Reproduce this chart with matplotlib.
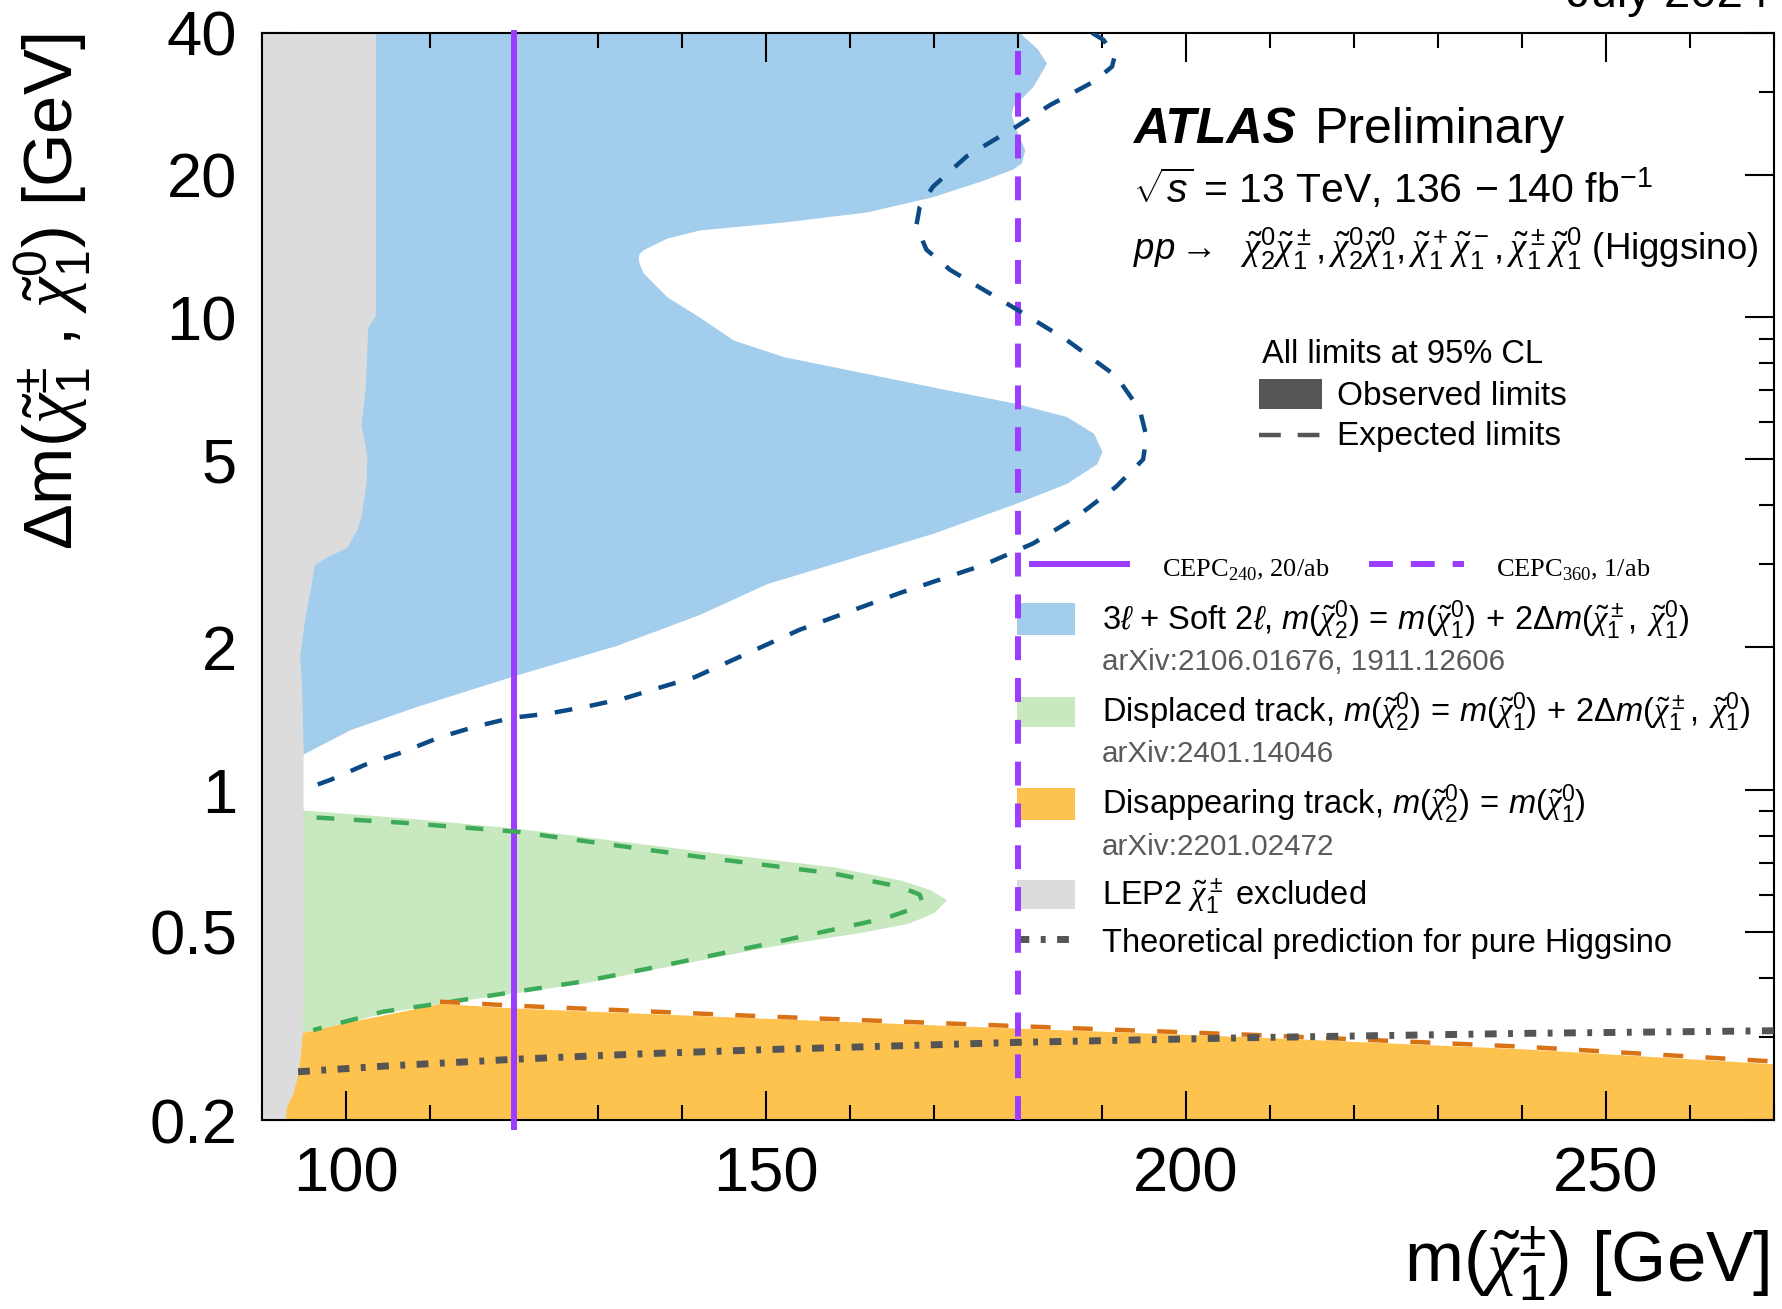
import numpy as np
import matplotlib.pyplot as plt
from matplotlib.patches import Rectangle
from matplotlib.lines import Line2D
from matplotlib.ticker import FixedLocator, LogLocator, NullFormatter, MultipleLocator

# fonts: Helvetica-like text, Times-like chi
plt.rcParams["font.family"] = ["Liberation Sans", "DejaVu Sans"]
plt.rcParams["mathtext.fontset"] = "custom"
plt.rcParams["mathtext.rm"] = "Liberation Sans"
plt.rcParams["mathtext.it"] = "Liberation Sans:italic"
plt.rcParams["mathtext.bf"] = "Liberation Sans:bold"
plt.rcParams["mathtext.cal"] = "Liberation Serif:italic"

# ---- data (m(chi1+-) [GeV], delta m [GeV]) ----
# 3l + soft 2l observed (right edge, top -> bottom)
obs3l_x = [180.2, 182.3, 183.4, 181.8, 179.4, 179.2, 179.8, 180.8, 180.4, 179.4, 175.9, 169.9,
           162.0, 152.1, 142.1, 138.2, 135.4, 134.9, 134.8, 134.9, 135.4, 138.2, 142.1, 146.1,
           152.1, 162.0, 171.9, 179.8, 185.8, 189.0, 190.0, 189.4, 185.8, 179.8, 169.9, 158.0,
           150.1, 142.1, 132.2, 120.3, 108.4, 100.5, 94.9]
obs3l_y = [40.0, 37.0, 34.5, 30.8, 27.9, 26.8, 24.9, 22.6, 21.2, 20.6, 19.5, 18.0,
           16.7, 15.9, 15.3, 14.7, 13.9, 13.65, 13.35, 13.0, 12.4, 11.05, 10.0, 8.95,
           8.25, 7.6, 7.0, 6.57, 6.16, 5.68, 5.2, 4.9, 4.45, 4.04, 3.49, 3.01,
           2.73, 2.35, 2.02, 1.75, 1.50, 1.34, 1.19]
# 3l + soft 2l expected
exp3l_x = [188.8, 190.2, 191.5, 191.2, 189.0, 183.8, 179.8, 173.9, 169.9, 168.3, 167.9, 169.1,
           171.9, 179.8, 185.8, 191.7, 194.5, 195.3, 194.9, 191.7, 187.0, 181.8, 175.9, 166.0,
           154.0, 141.5, 137.6, 133.1, 128.7, 124.2, 119.8, 115.4, 111.1, 106.7, 102.3, 98.2, 94.9]
exp3l_y = [40.0, 38.6, 35.6, 33.9, 31.5, 28.1, 25.3, 21.9, 18.9, 17.1, 15.6, 13.9,
           12.6, 10.4, 8.95, 7.5, 6.37, 5.59, 5.0, 4.38, 3.78, 3.32, 2.99, 2.61,
           2.18, 1.73, 1.65, 1.56, 1.50, 1.45, 1.42, 1.36, 1.29, 1.20, 1.13, 1.05, 1.0]
# displaced track observed (right edge, top -> bottom)
disp_x = [94.9, 107.6, 120.3, 142.1, 158.0, 166.0, 169.5, 171.5, 170.0, 167.0, 161.6, 150.5,
          136.2, 128.3, 120.3, 111.2, 104.4, 100.5, 94.7]
disp_y = [0.906, 0.870, 0.829, 0.742, 0.687, 0.644, 0.615, 0.585, 0.55, 0.522, 0.50, 0.466,
          0.416, 0.390, 0.372, 0.353, 0.337, 0.323, 0.306]
# displaced track expected
disp_exp_x = [96.5, 106.5, 120.3, 142.1, 158.0, 166.0, 168.3, 168.6, 167.5, 164.3, 150.5,
              136.2, 128.3, 120.3, 111.2, 104.4, 96.1]
disp_exp_y = [0.873, 0.852, 0.815, 0.721, 0.665, 0.623, 0.600, 0.580, 0.560, 0.535, 0.473,
              0.419, 0.393, 0.374, 0.353, 0.339, 0.310]
# disappearing track observed (upper edge vs m)
dis_x = [90.0, 94.7, 100.5, 106.4, 111.2, 120.3, 150.5, 180.0, 207.6, 240.0, 270.0]
dis_y = [0.300, 0.306, 0.323, 0.339, 0.353, 0.345, 0.328, 0.313, 0.300, 0.283, 0.263]
# disappearing track expected
dis_exp_x = [111.2, 120.3, 150.5, 180.0, 207.6, 240.0, 270.0]
dis_exp_y = [0.356, 0.349, 0.331, 0.316, 0.303, 0.286, 0.266]
# LEP2 excluded (right edge, top -> bottom)
lep_x = [103.5, 103.5, 102.6, 102.3, 101.8, 102.5, 102.4, 101.8, 101.3, 100.1, 98.9, 97.7,
         96.2, 95.9, 95.1, 94.5, 94.7, 94.9, 94.9, 95.0, 94.8, 94.6, 94.3, 93.7, 92.9, 92.8]
lep_y = [40.0, 10.1, 9.5, 7.1, 5.9, 5.1, 4.47, 3.79, 3.55, 3.26, 3.18, 3.11,
         2.99, 2.74, 2.31, 1.92, 1.69, 1.22, 0.88, 0.64, 0.305, 0.277, 0.251, 0.228, 0.213, 0.2]
# theoretical prediction for pure Higgsino
theo_x = [94.3, 104.5, 120.3, 135.0, 150.5, 180.0, 208.8, 240.0, 270.0]
theo_y = [0.253, 0.260, 0.269, 0.276, 0.282, 0.292, 0.299, 0.305, 0.309]
# CEPC reach
cepc240_x = 120.0
cepc360_x = 180.0

x_ticks = [100, 150, 200, 250]
y_ticks = [0.2, 0.5, 1, 2, 5, 10, 20, 40]
y_tick_labels = ["0.2", "0.5", "1", "2", "5", "10", "20", "40"]

BLUE, DBLUE = "#a3cdec", "#0b4a85"
GREEN, DGREEN = "#c8e8c0", "#3daa57"
ORANGE, DORANGE = "#fec24f", "#d97214"
GRAY = "#dcdcdc"
PURPLE = "#9b3cff"
THEO = "#555555"

CHI = r"\tilde{\mathcal{\chi}}"


def tex(s):
    return s.replace("@", CHI)


fig = plt.figure(figsize=(17.82, 13.09), dpi=100)
ax = fig.add_axes([0.1470, 0.14438, 0.84848, 0.83064])
ax.set_yscale("log")

# regions
ax.fill_betweenx(obs3l_y, 90, obs3l_x, color=BLUE, lw=0, zorder=1)
ax.fill_betweenx(disp_y, 90, disp_x, color=GREEN, lw=0, zorder=1)
ax.fill_between(dis_x, 0.2, dis_y, color=ORANGE, lw=0, zorder=1)
ax.fill_betweenx(lep_y, 90, lep_x, color=GRAY, lw=0, zorder=2)

# lines
ax.axvline(cepc240_x, ymin=-0.006, ymax=1, color=PURPLE, lw=4.3, clip_on=False, zorder=3)
ax.axvline(cepc360_x, color=PURPLE, lw=4.3, dashes=(4, 3), zorder=3)
ax.plot(exp3l_x, exp3l_y, color=DBLUE, lw=3.2, dashes=(4, 4), zorder=4)
ax.plot(disp_exp_x, disp_exp_y, color=DGREEN, lw=3.2, dashes=(4, 4.4), zorder=4)
ax.plot(dis_exp_x, dis_exp_y, color=DORANGE, lw=3.2, dashes=(4.5, 5), zorder=4)
ax.plot(theo_x, theo_y, color=THEO, lw=5, dashes=(1.7, 1.65, 0.7, 1.65), zorder=4)

# axes
ax.set_xlim(90, 270)
ax.set_ylim(0.2, 40)
ax.xaxis.set_major_locator(FixedLocator(x_ticks))
ax.xaxis.set_minor_locator(MultipleLocator(10))
ax.yaxis.set_major_locator(FixedLocator(y_ticks))
ax.set_yticklabels(y_tick_labels)
ax.yaxis.set_minor_locator(LogLocator(base=10, subs=np.arange(1, 10)))
ax.yaxis.set_minor_formatter(NullFormatter())
ax.tick_params(which="both", direction="in", top=True, right=True, width=1.5)
ax.tick_params(which="major", length=21, labelsize=45.5, pad=18)
ax.tick_params(which="minor", length=11)
for sp in ax.spines.values():
    sp.set_linewidth(1.5)

ax.set_xlabel(tex(r"m($@^{\pm}_{1}$) [GeV]"), fontsize=51, loc="right")
ax.xaxis.set_label_coords(0.997, -0.097)
ax.set_ylabel(tex(r"Δm($@^{\pm}_{1}$ , $@^{0}_{1}$) [GeV]"), fontsize=49.5, loc="top")
ax.yaxis.set_label_coords(-0.112, 1.0)


# text positions given in pixels of the 1782x1309 picture
def P(px, py):
    return (px - 262) / 1512, (1120 - py) / 1087.3


def txt(px, py, s, **kw):
    x, y = P(px, py)
    ax.text(x, y, s, transform=ax.transAxes, va="baseline", ha="left", zorder=6, **kw)


def box(px0, px1, py0, py1, color):
    x0, y1 = P(px0, py0)
    x1, y0 = P(px1, py1)
    ax.add_patch(Rectangle((x0, y0), x1 - x0, y1 - y0, transform=ax.transAxes,
                           color=color, lw=0, zorder=2))


def sample(px0, px1, py, **kw):
    x0, y = P(px0, py)
    x1, _ = P(px1, py)
    ax.add_line(Line2D([x0, x1], [y, y], transform=ax.transAxes, **kw))


fig.text(1769 / 1782, 1 - 7 / 1309, "July 2024", ha="right", va="baseline", fontsize=34)

txt(1133, 143, "ATLAS", fontsize=36, fontweight="bold", fontstyle="italic")
txt(1315, 143, "Preliminary", fontsize=36)
txt(1133, 203, r"$\sqrt{s}$ = 13 TeV, 136$\,-$140 fb$^{-1}$", fontsize=29.5)
txt(1133, 260, tex(r"$pp \rightarrow$  $@^0_2@^\pm_1, @^0_2@^0_1, @^+_1@^-_1, @^\pm_1@^0_1$ (Higgsino)"),
    fontsize=26.4)

txt(1262, 363, "All limits at 95% CL", fontsize=23.5)
box(1259, 1322, 379, 409, "#555555")
txt(1337, 405, "Observed limits", fontsize=24)
sample(1259, 1322, 435, color="#555555", lw=3.2, dashes=(4.9, 3.8))
txt(1337, 445, "Expected limits", fontsize=24)

sample(1032, 1127, 564, color=PURPLE, lw=4.3)
txt(1162, 577, r"CEPC$_{\mathregular{240}}$, 20/ab", fontsize=19, family="Liberation Serif")
sample(1369, 1464, 564, color=PURPLE, lw=4.3, dashes=(4, 3))
txt(1496, 577, r"CEPC$_{\mathregular{360}}$, 1/ab", fontsize=19, family="Liberation Serif")

ARX = "#5a5a5a"
MREL = r"m(@^0_2)\,=\,m(@^0_1)\,+\,2\Delta m(@^\pm_1,\;@^0_1)"
box(1017, 1075, 603, 635, BLUE)
txt(1102, 630, tex(r"3$\ell$ + Soft 2$\ell$, $" + MREL + "$"), fontsize=23.5)
txt(1102, 670, "arXiv:2106.01676, 1911.12606", fontsize=21.3, color=ARX)
box(1017, 1075, 697, 727, GREEN)
txt(1102, 722, tex(r"Displaced track, $" + MREL + "$"), fontsize=23.5)
txt(1102, 762, "arXiv:2401.14046", fontsize=21.3, color=ARX)
box(1017, 1075, 788, 820, ORANGE)
txt(1102, 814, tex(r"Disappearing track, $m(@^0_2)\,=\,m(@^0_1)$"), fontsize=23.5)
txt(1102, 855, "arXiv:2201.02472", fontsize=21.3, color=ARX)
box(1017, 1075, 880, 909, GRAY)
txt(1102, 905, tex(r"LEP2 $@^\pm_1$ excluded"), fontsize=23.5)
sample(1017, 1070, 939, color=THEO, lw=5, dashes=(1.7, 1.65, 0.7, 1.65))
txt(1102, 952, "Theoretical prediction for pure Higgsino", fontsize=23.5)

fig.savefig("out.png", dpi=100)
